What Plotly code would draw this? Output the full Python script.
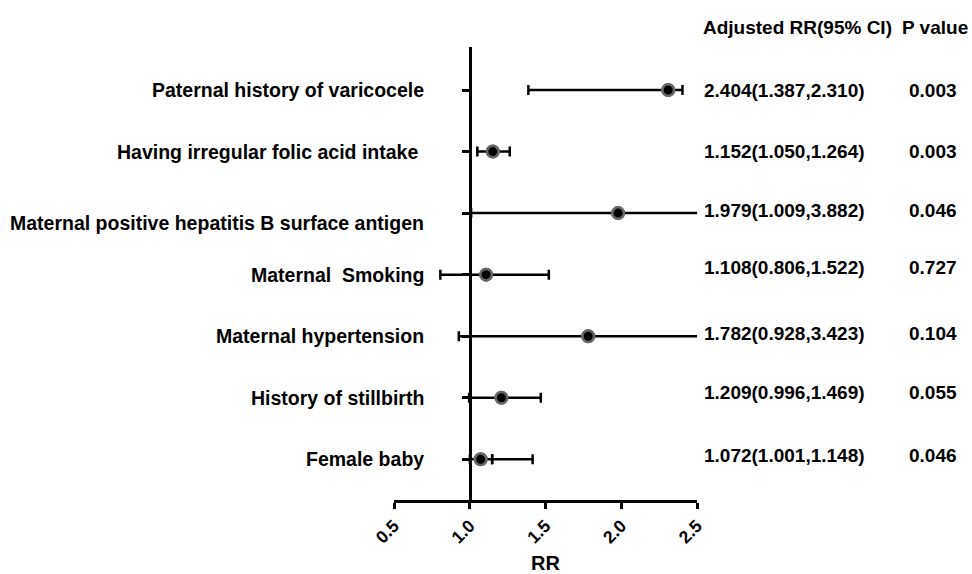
import plotly.graph_objects as go

# ---- data ----
labels = [
    "Paternal history of varicocele",
    "Having irregular folic acid intake ",
    "Maternal positive hepatitis B surface antigen",
    "Maternal  Smoking",
    "Maternal hypertension",
    "History of stillbirth",
    "Female baby",
]
rr_point = [2.310, 1.152, 1.979, 1.108, 1.782, 1.209, 1.072]
ci_low = [1.387, 1.050, 1.009, 0.806, 0.928, 0.996, 1.001]
ci_high = [2.404, 1.264, 3.882, 1.522, 3.423, 1.469, 1.148]
# second drawn interval on the "Female baby" row
extra_low = [None, None, None, None, None, None, 1.148]
extra_high = [None, None, None, None, None, None, 1.415]
rr_text = [
    "2.404(1.387,2.310)",
    "1.152(1.050,1.264)",
    "1.979(1.009,3.882)",
    "1.108(0.806,1.522)",
    "1.782(0.928,3.423)",
    "1.209(0.996,1.469)",
    "1.072(1.001,1.148)",
]
p_text = ["0.003", "0.003", "0.046", "0.727", "0.104", "0.055", "0.046"]
x_ticks = [0.5, 1.0, 1.5, 2.0, 2.5]
x_ticktext = ["0.5", "1.0", "1.5", "2.0", "2.5"]
header_rr = "Adjusted RR(95% CI)"
header_p = "P value"
x_title = "RR"

# ---- layout constants (pixels) ----
W, H = 972, 574
L, R, T, B = 394, 275, 47, 74
PW, PH = W - L - R, H - T - B
FONT = "Liberation Sans"
LAB_SIZE = 19.5
COL_SIZE = 19

n = len(labels)
ypos = list(range(n - 1, -1, -1))  # top row highest


def px_x(px):
    return (px - L) / PW


def px_y(py):
    return (H - B - py) / PH


MARKER = dict(color="black", size=11.5, line=dict(color="#676767", width=2.5))

fig = go.Figure()

fig.add_trace(go.Scatter(
    x=rr_point, y=ypos, mode="markers",
    marker=MARKER,
    error_x=dict(type="data", symmetric=False,
                 array=[h - p for h, p in zip(ci_high, rr_point)],
                 arrayminus=[p - l for p, l in zip(rr_point, ci_low)],
                 color="black", thickness=2.5, width=5),
    showlegend=False, hoverinfo="skip",
))

ex_x = [lo for lo in extra_low if lo is not None]
ex_y = [y for lo, y in zip(extra_low, ypos) if lo is not None]
ex_arr = [hi - lo for lo, hi in zip(extra_low, extra_high) if lo is not None]
fig.add_trace(go.Scatter(
    x=ex_x, y=ex_y, mode="markers",
    marker=dict(color="rgba(0,0,0,0)", size=1),
    error_x=dict(type="data", symmetric=False, array=ex_arr,
                 arrayminus=[0] * len(ex_x),
                 color="black", thickness=2.5, width=5),
    showlegend=False, hoverinfo="skip",
))
# redraw markers on top
fig.add_trace(go.Scatter(
    x=rr_point, y=ypos, mode="markers",
    marker=MARKER,
    showlegend=False, hoverinfo="skip",
))

annotations = []
label_shift = [0, 0, -10, 0, 0, 0, 0]
text_shift = [0, 0, 3, 7, 3, 5, 4]
for lab, y, ls, ts, rt, pt in zip(labels, ypos, label_shift, text_shift, rr_text, p_text):
    disp = lab.replace("  ", "\u00a0 ")
    if disp.endswith(" "):
        disp = disp[:-1] + "\u00a0"
    annotations.append(dict(
        x=px_x(425.5), xref="paper", y=y, yref="y", yshift=ls,
        text=disp, showarrow=False, xanchor="right", yanchor="middle",
        font=dict(family=FONT, size=LAB_SIZE, color="black", weight="bold"),
    ))
    annotations.append(dict(
        x=px_x(702), xref="paper", y=y, yref="y", yshift=ts,
        text=rt, showarrow=False, xanchor="left", yanchor="middle",
        font=dict(family=FONT, size=COL_SIZE, color="black", weight="bold"),
    ))
    annotations.append(dict(
        x=px_x(932.5), xref="paper", y=y, yref="y", yshift=ts,
        text=pt, showarrow=False, xanchor="center", yanchor="middle",
        font=dict(family=FONT, size=COL_SIZE, color="black", weight="bold"),
    ))

annotations.append(dict(
    x=px_x(700.5), xref="paper", y=px_y(27), yref="paper",
    text=header_rr, showarrow=False, xanchor="left", yanchor="middle",
    font=dict(family=FONT, size=COL_SIZE, color="black", weight="bold"),
))
annotations.append(dict(
    x=px_x(934.5), xref="paper", y=px_y(27), yref="paper",
    text=header_p, showarrow=False, xanchor="center", yanchor="middle",
    font=dict(family=FONT, size=COL_SIZE, color="black", weight="bold"),
))
annotations.append(dict(
    x=0.5, xref="paper", y=px_y(563), yref="paper",
    text=x_title, showarrow=False, xanchor="center", yanchor="middle",
    font=dict(family=FONT, size=20, color="black", weight="bold"),
))

fig.update_layout(
    width=W, height=H,
    margin=dict(l=L, r=R, t=T, b=B, pad=0),
    paper_bgcolor="white", plot_bgcolor="white",
    xaxis=dict(
        range=[0.5, 2.5], domain=[0, 1],
        tickvals=x_ticks, ticktext=x_ticktext, tickangle=-45,
        ticks="outside", ticklen=6, tickwidth=2.5, tickcolor="black",
        showline=True, linewidth=2.5, linecolor="black",
        showgrid=False, zeroline=False,
        tickfont=dict(family=FONT, size=17.5, color="black", weight="bold"),
    ),
    yaxis=dict(
        range=[-0.661, n - 1 + 0.699],
        anchor="free", position=(1.0 - 0.5) / (2.5 - 0.5),
        tickvals=ypos, showticklabels=False,
        ticks="outside", ticklen=7, tickwidth=2.5, tickcolor="black",
        showline=True, linewidth=2.5, linecolor="black",
        showgrid=False, zeroline=False,
    ),
    annotations=annotations,
)

fig.write_html(
    "out.html",
    config={"displayModeBar": False},
    post_script="document.body.style.margin='0';document.body.style.overflow='hidden';",
)
